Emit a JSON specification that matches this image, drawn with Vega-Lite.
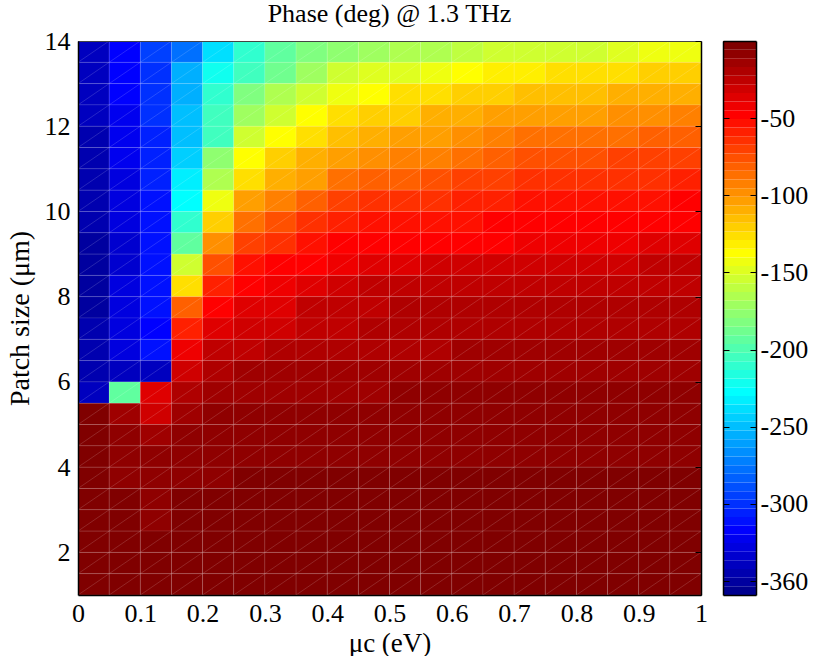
{"$schema":"https://vega.github.io/schema/vega-lite/v6.json","padding":{"left":6,"top":1,"right":0,"bottom":0},"background":"white",
"config":{"font":"Liberation Serif","view":{"stroke":null},"axis":{"grid":false,"labelColor":"#000","titleColor":"#000","labelFont":"Liberation Serif","titleFont":"Liberation Serif","titleFontWeight":"normal"}},
"datasets":{
"muEdges":[{"mu":0,"mu2":0.05},{"mu":0.05,"mu2":0.1},{"mu":0.1,"mu2":0.15},{"mu":0.15,"mu2":0.2},{"mu":0.2,"mu2":0.25},{"mu":0.25,"mu2":0.3},{"mu":0.3,"mu2":0.35},{"mu":0.35,"mu2":0.4},{"mu":0.4,"mu2":0.45},{"mu":0.45,"mu2":0.5},{"mu":0.5,"mu2":0.55},{"mu":0.55,"mu2":0.6},{"mu":0.6,"mu2":0.65},{"mu":0.65,"mu2":0.7},{"mu":0.7,"mu2":0.75},{"mu":0.75,"mu2":0.8},{"mu":0.8,"mu2":0.85},{"mu":0.85,"mu2":0.9},{"mu":0.9,"mu2":0.95},{"mu":0.95,"mu2":1}],
"sizeEdges":[{"size":1,"size2":1.5},{"size":1.5,"size2":2},{"size":2,"size2":2.5},{"size":2.5,"size2":3},{"size":3,"size2":3.5},{"size":3.5,"size2":4},{"size":4,"size2":4.5},{"size":4.5,"size2":5},{"size":5,"size2":5.5},{"size":5.5,"size2":6},{"size":6,"size2":6.5},{"size":6.5,"size2":7},{"size":7,"size2":7.5},{"size":7.5,"size2":8},{"size":8,"size2":8.5},{"size":8.5,"size2":9},{"size":9,"size2":9.5},{"size":9.5,"size2":10},{"size":10,"size2":10.5},{"size":10.5,"size2":11},{"size":11,"size2":11.5},{"size":11.5,"size2":12},{"size":12,"size2":12.5},{"size":12.5,"size2":13},{"size":13,"size2":13.5},{"size":13.5,"size2":14}],
"bands":[{"lo":-359,"hi":-353.39,"v":-356.2},{"lo":-353.39,"hi":-347.78,"v":-350.6},{"lo":-347.78,"hi":-342.17,"v":-345},{"lo":-342.17,"hi":-336.56,"v":-339.4},{"lo":-336.56,"hi":-330.95,"v":-333.8},{"lo":-330.95,"hi":-325.34,"v":-328.1},{"lo":-325.34,"hi":-319.73,"v":-322.5},{"lo":-319.73,"hi":-314.13,"v":-316.9},{"lo":-314.13,"hi":-308.52,"v":-311.3},{"lo":-308.52,"hi":-302.91,"v":-305.7},{"lo":-302.91,"hi":-297.3,"v":-300.1},{"lo":-297.3,"hi":-291.69,"v":-294.5},{"lo":-291.69,"hi":-286.08,"v":-288.9},{"lo":-286.08,"hi":-280.47,"v":-283.3},{"lo":-280.47,"hi":-274.86,"v":-277.7},{"lo":-274.86,"hi":-269.25,"v":-272.1},{"lo":-269.25,"hi":-263.64,"v":-266.4},{"lo":-263.64,"hi":-258.03,"v":-260.8},{"lo":-258.03,"hi":-252.42,"v":-255.2},{"lo":-252.42,"hi":-246.81,"v":-249.6},{"lo":-246.81,"hi":-241.2,"v":-244},{"lo":-241.2,"hi":-235.59,"v":-238.4},{"lo":-235.59,"hi":-229.98,"v":-232.8},{"lo":-229.98,"hi":-224.38,"v":-227.2},{"lo":-224.38,"hi":-218.77,"v":-221.6},{"lo":-218.77,"hi":-213.16,"v":-216},{"lo":-213.16,"hi":-207.55,"v":-210.4},{"lo":-207.55,"hi":-201.94,"v":-204.7},{"lo":-201.94,"hi":-196.33,"v":-199.1},{"lo":-196.33,"hi":-190.72,"v":-193.5},{"lo":-190.72,"hi":-185.11,"v":-187.9},{"lo":-185.11,"hi":-179.5,"v":-182.3},{"lo":-179.5,"hi":-173.89,"v":-176.7},{"lo":-173.89,"hi":-168.28,"v":-171.1},{"lo":-168.28,"hi":-162.67,"v":-165.5},{"lo":-162.67,"hi":-157.06,"v":-159.9},{"lo":-157.06,"hi":-151.45,"v":-154.3},{"lo":-151.45,"hi":-145.84,"v":-148.6},{"lo":-145.84,"hi":-140.23,"v":-143},{"lo":-140.23,"hi":-134.63,"v":-137.4},{"lo":-134.63,"hi":-129.02,"v":-131.8},{"lo":-129.02,"hi":-123.41,"v":-126.2},{"lo":-123.41,"hi":-117.8,"v":-120.6},{"lo":-117.8,"hi":-112.19,"v":-115},{"lo":-112.19,"hi":-106.58,"v":-109.4},{"lo":-106.58,"hi":-100.97,"v":-103.8},{"lo":-100.97,"hi":-95.36,"v":-98.2},{"lo":-95.36,"hi":-89.75,"v":-92.6},{"lo":-89.75,"hi":-84.14,"v":-86.9},{"lo":-84.14,"hi":-78.53,"v":-81.3},{"lo":-78.53,"hi":-72.92,"v":-75.7},{"lo":-72.92,"hi":-67.31,"v":-70.1},{"lo":-67.31,"hi":-61.7,"v":-64.5},{"lo":-61.7,"hi":-56.09,"v":-58.9},{"lo":-56.09,"hi":-50.48,"v":-53.3},{"lo":-50.48,"hi":-44.88,"v":-47.7},{"lo":-44.88,"hi":-39.27,"v":-42.1},{"lo":-39.27,"hi":-33.66,"v":-36.5},{"lo":-33.66,"hi":-28.05,"v":-30.9},{"lo":-28.05,"hi":-22.44,"v":-25.2},{"lo":-22.44,"hi":-16.83,"v":-19.6},{"lo":-16.83,"hi":-11.22,"v":-14},{"lo":-11.22,"hi":-5.61,"v":-8.4},{"lo":-5.61,"hi":0,"v":-2.8}],
"cells":[
{"mu":0,"size":13.5,"phase":-340},{"mu":0.05,"size":13.5,"phase":-315},{"mu":0.1,"size":13.5,"phase":-295},{"mu":0.15,"size":13.5,"phase":-280},{"mu":0.2,"size":13.5,"phase":-238},{"mu":0.25,"size":13.5,"phase":-213},{"mu":0.3,"size":13.5,"phase":-196},{"mu":0.35,"size":13.5,"phase":-184},{"mu":0.4,"size":13.5,"phase":-179},{"mu":0.45,"size":13.5,"phase":-172},{"mu":0.5,"size":13.5,"phase":-168},{"mu":0.55,"size":13.5,"phase":-165},{"mu":0.6,"size":13.5,"phase":-160},{"mu":0.65,"size":13.5,"phase":-157},{"mu":0.7,"size":13.5,"phase":-152},{"mu":0.75,"size":13.5,"phase":-152},{"mu":0.8,"size":13.5,"phase":-152},{"mu":0.85,"size":13.5,"phase":-150},{"mu":0.9,"size":13.5,"phase":-145},{"mu":0.95,"size":13.5,"phase":-145},
{"mu":0,"size":13,"phase":-340},{"mu":0.05,"size":13,"phase":-316},{"mu":0.1,"size":13,"phase":-298},{"mu":0.15,"size":13,"phase":-257},{"mu":0.2,"size":13,"phase":-224},{"mu":0.25,"size":13,"phase":-202},{"mu":0.3,"size":13,"phase":-188},{"mu":0.35,"size":13,"phase":-169},{"mu":0.4,"size":13,"phase":-156},{"mu":0.45,"size":13,"phase":-150},{"mu":0.5,"size":13,"phase":-146},{"mu":0.55,"size":13,"phase":-142},{"mu":0.6,"size":13,"phase":-140},{"mu":0.65,"size":13,"phase":-134},{"mu":0.7,"size":13,"phase":-134},{"mu":0.75,"size":13,"phase":-127},{"mu":0.8,"size":13,"phase":-127},{"mu":0.85,"size":13,"phase":-127},{"mu":0.9,"size":13,"phase":-122},{"mu":0.95,"size":13,"phase":-122},
{"mu":0,"size":12.5,"phase":-342},{"mu":0.05,"size":12.5,"phase":-318},{"mu":0.1,"size":12.5,"phase":-300},{"mu":0.15,"size":12.5,"phase":-255},{"mu":0.2,"size":12.5,"phase":-212},{"mu":0.25,"size":12.5,"phase":-181},{"mu":0.3,"size":12.5,"phase":-166},{"mu":0.35,"size":12.5,"phase":-155},{"mu":0.4,"size":12.5,"phase":-143},{"mu":0.45,"size":12.5,"phase":-136},{"mu":0.5,"size":12.5,"phase":-129},{"mu":0.55,"size":12.5,"phase":-129},{"mu":0.6,"size":12.5,"phase":-122},{"mu":0.65,"size":12.5,"phase":-122},{"mu":0.7,"size":12.5,"phase":-116},{"mu":0.75,"size":12.5,"phase":-116},{"mu":0.8,"size":12.5,"phase":-116},{"mu":0.85,"size":12.5,"phase":-111},{"mu":0.9,"size":12.5,"phase":-111},{"mu":0.95,"size":12.5,"phase":-110},
{"mu":0,"size":12,"phase":-342},{"mu":0.05,"size":12,"phase":-320},{"mu":0.1,"size":12,"phase":-302},{"mu":0.15,"size":12,"phase":-250},{"mu":0.2,"size":12,"phase":-206},{"mu":0.25,"size":12,"phase":-172},{"mu":0.3,"size":12,"phase":-155},{"mu":0.35,"size":12,"phase":-137},{"mu":0.4,"size":12,"phase":-129},{"mu":0.45,"size":12,"phase":-120},{"mu":0.5,"size":12,"phase":-120},{"mu":0.55,"size":12,"phase":-112},{"mu":0.6,"size":12,"phase":-112},{"mu":0.65,"size":12,"phase":-104},{"mu":0.7,"size":12,"phase":-102},{"mu":0.75,"size":12,"phase":-102},{"mu":0.8,"size":12,"phase":-101},{"mu":0.85,"size":12,"phase":-100},{"mu":0.9,"size":12,"phase":-99},{"mu":0.95,"size":12,"phase":-92},
{"mu":0,"size":11.5,"phase":-344},{"mu":0.05,"size":11.5,"phase":-322},{"mu":0.1,"size":11.5,"phase":-304},{"mu":0.15,"size":11.5,"phase":-248},{"mu":0.2,"size":11.5,"phase":-202},{"mu":0.25,"size":11.5,"phase":-155},{"mu":0.3,"size":11.5,"phase":-137},{"mu":0.35,"size":11.5,"phase":-128},{"mu":0.4,"size":11.5,"phase":-116},{"mu":0.45,"size":11.5,"phase":-111},{"mu":0.5,"size":11.5,"phase":-104},{"mu":0.55,"size":11.5,"phase":-102},{"mu":0.6,"size":11.5,"phase":-97},{"mu":0.65,"size":11.5,"phase":-95},{"mu":0.7,"size":11.5,"phase":-89},{"mu":0.75,"size":11.5,"phase":-89},{"mu":0.8,"size":11.5,"phase":-86},{"mu":0.85,"size":11.5,"phase":-86},{"mu":0.9,"size":11.5,"phase":-84},{"mu":0.95,"size":11.5,"phase":-82},
{"mu":0,"size":11,"phase":-345},{"mu":0.05,"size":11,"phase":-325},{"mu":0.1,"size":11,"phase":-306},{"mu":0.15,"size":11,"phase":-242},{"mu":0.2,"size":11,"phase":-178},{"mu":0.25,"size":11,"phase":-140},{"mu":0.3,"size":11,"phase":-120},{"mu":0.35,"size":11,"phase":-111},{"mu":0.4,"size":11,"phase":-102},{"mu":0.45,"size":11,"phase":-96},{"mu":0.5,"size":11,"phase":-92},{"mu":0.55,"size":11,"phase":-90},{"mu":0.6,"size":11,"phase":-85},{"mu":0.65,"size":11,"phase":-84},{"mu":0.7,"size":11,"phase":-76},{"mu":0.75,"size":11,"phase":-76},{"mu":0.8,"size":11,"phase":-75},{"mu":0.85,"size":11,"phase":-72},{"mu":0.9,"size":11,"phase":-71},{"mu":0.95,"size":11,"phase":-69},
{"mu":0,"size":10.5,"phase":-346},{"mu":0.05,"size":10.5,"phase":-326},{"mu":0.1,"size":10.5,"phase":-308},{"mu":0.15,"size":10.5,"phase":-234},{"mu":0.2,"size":10.5,"phase":-163},{"mu":0.25,"size":10.5,"phase":-129},{"mu":0.3,"size":10.5,"phase":-109},{"mu":0.35,"size":10.5,"phase":-102},{"mu":0.4,"size":10.5,"phase":-88},{"mu":0.45,"size":10.5,"phase":-81},{"mu":0.5,"size":10.5,"phase":-79},{"mu":0.55,"size":10.5,"phase":-78},{"mu":0.6,"size":10.5,"phase":-71},{"mu":0.65,"size":10.5,"phase":-70},{"mu":0.7,"size":10.5,"phase":-64},{"mu":0.75,"size":10.5,"phase":-65},{"mu":0.8,"size":10.5,"phase":-65},{"mu":0.85,"size":10.5,"phase":-62},{"mu":0.9,"size":10.5,"phase":-62},{"mu":0.95,"size":10.5,"phase":-60},
{"mu":0,"size":10,"phase":-347},{"mu":0.05,"size":10,"phase":-328},{"mu":0.1,"size":10,"phase":-310},{"mu":0.15,"size":10,"phase":-228},{"mu":0.2,"size":10,"phase":-143},{"mu":0.25,"size":10,"phase":-105},{"mu":0.3,"size":10,"phase":-94},{"mu":0.35,"size":10,"phase":-84},{"mu":0.4,"size":10,"phase":-71},{"mu":0.45,"size":10,"phase":-65},{"mu":0.5,"size":10,"phase":-65},{"mu":0.55,"size":10,"phase":-64},{"mu":0.6,"size":10,"phase":-60},{"mu":0.65,"size":10,"phase":-58},{"mu":0.7,"size":10,"phase":-56},{"mu":0.75,"size":10,"phase":-56},{"mu":0.8,"size":10,"phase":-55},{"mu":0.85,"size":10,"phase":-52},{"mu":0.9,"size":10,"phase":-52},{"mu":0.95,"size":10,"phase":-50},
{"mu":0,"size":9.5,"phase":-347},{"mu":0.05,"size":9.5,"phase":-330},{"mu":0.1,"size":9.5,"phase":-312},{"mu":0.15,"size":9.5,"phase":-213},{"mu":0.2,"size":9.5,"phase":-122},{"mu":0.25,"size":9.5,"phase":-88},{"mu":0.3,"size":9.5,"phase":-78},{"mu":0.35,"size":9.5,"phase":-67},{"mu":0.4,"size":9.5,"phase":-59},{"mu":0.45,"size":9.5,"phase":-56},{"mu":0.5,"size":9.5,"phase":-56},{"mu":0.55,"size":9.5,"phase":-54},{"mu":0.6,"size":9.5,"phase":-51},{"mu":0.65,"size":9.5,"phase":-49},{"mu":0.7,"size":9.5,"phase":-48},{"mu":0.75,"size":9.5,"phase":-48},{"mu":0.8,"size":9.5,"phase":-48},{"mu":0.85,"size":9.5,"phase":-47},{"mu":0.9,"size":9.5,"phase":-47},{"mu":0.95,"size":9.5,"phase":-45},
{"mu":0,"size":9,"phase":-348},{"mu":0.05,"size":9,"phase":-331},{"mu":0.1,"size":9,"phase":-314},{"mu":0.15,"size":9,"phase":-192},{"mu":0.2,"size":9,"phase":-100},{"mu":0.25,"size":9,"phase":-71},{"mu":0.3,"size":9,"phase":-64},{"mu":0.35,"size":9,"phase":-55},{"mu":0.4,"size":9,"phase":-50},{"mu":0.45,"size":9,"phase":-47},{"mu":0.5,"size":9,"phase":-46},{"mu":0.55,"size":9,"phase":-45},{"mu":0.6,"size":9,"phase":-45},{"mu":0.65,"size":9,"phase":-45},{"mu":0.7,"size":9,"phase":-44},{"mu":0.75,"size":9,"phase":-42},{"mu":0.8,"size":9,"phase":-41},{"mu":0.85,"size":9,"phase":-40},{"mu":0.9,"size":9,"phase":-38},{"mu":0.95,"size":9,"phase":-38},
{"mu":0,"size":8.5,"phase":-350},{"mu":0.05,"size":8.5,"phase":-332},{"mu":0.1,"size":8.5,"phase":-314},{"mu":0.15,"size":8.5,"phase":-155},{"mu":0.2,"size":8.5,"phase":-78},{"mu":0.25,"size":8.5,"phase":-55},{"mu":0.3,"size":8.5,"phase":-50},{"mu":0.35,"size":8.5,"phase":-45},{"mu":0.4,"size":8.5,"phase":-40},{"mu":0.45,"size":8.5,"phase":-35},{"mu":0.5,"size":8.5,"phase":-35},{"mu":0.55,"size":8.5,"phase":-31},{"mu":0.6,"size":8.5,"phase":-31},{"mu":0.65,"size":8.5,"phase":-30},{"mu":0.7,"size":8.5,"phase":-30},{"mu":0.75,"size":8.5,"phase":-30},{"mu":0.8,"size":8.5,"phase":-29},{"mu":0.85,"size":8.5,"phase":-29},{"mu":0.9,"size":8.5,"phase":-28},{"mu":0.95,"size":8.5,"phase":-28},
{"mu":0,"size":8,"phase":-348},{"mu":0.05,"size":8,"phase":-330},{"mu":0.1,"size":8,"phase":-313},{"mu":0.15,"size":8,"phase":-126},{"mu":0.2,"size":8,"phase":-60},{"mu":0.25,"size":8,"phase":-46},{"mu":0.3,"size":8,"phase":-44},{"mu":0.35,"size":8,"phase":-34},{"mu":0.4,"size":8,"phase":-29},{"mu":0.45,"size":8,"phase":-26},{"mu":0.5,"size":8,"phase":-27},{"mu":0.55,"size":8,"phase":-27},{"mu":0.6,"size":8,"phase":-27},{"mu":0.65,"size":8,"phase":-27},{"mu":0.7,"size":8,"phase":-26},{"mu":0.75,"size":8,"phase":-26},{"mu":0.8,"size":8,"phase":-26},{"mu":0.85,"size":8,"phase":-26},{"mu":0.9,"size":8,"phase":-25},{"mu":0.95,"size":8,"phase":-25},
{"mu":0,"size":7.5,"phase":-348},{"mu":0.05,"size":7.5,"phase":-328},{"mu":0.1,"size":7.5,"phase":-313},{"mu":0.15,"size":7.5,"phase":-84},{"mu":0.2,"size":7.5,"phase":-45},{"mu":0.25,"size":7.5,"phase":-38},{"mu":0.3,"size":7.5,"phase":-34},{"mu":0.35,"size":7.5,"phase":-25},{"mu":0.4,"size":7.5,"phase":-24},{"mu":0.45,"size":7.5,"phase":-23},{"mu":0.5,"size":7.5,"phase":-22},{"mu":0.55,"size":7.5,"phase":-22},{"mu":0.6,"size":7.5,"phase":-22},{"mu":0.65,"size":7.5,"phase":-22},{"mu":0.7,"size":7.5,"phase":-21},{"mu":0.75,"size":7.5,"phase":-21},{"mu":0.8,"size":7.5,"phase":-21},{"mu":0.85,"size":7.5,"phase":-21},{"mu":0.9,"size":7.5,"phase":-21},{"mu":0.95,"size":7.5,"phase":-21},
{"mu":0,"size":7,"phase":-347},{"mu":0.05,"size":7,"phase":-330},{"mu":0.1,"size":7,"phase":-316},{"mu":0.15,"size":7,"phase":-61},{"mu":0.2,"size":7,"phase":-34},{"mu":0.25,"size":7,"phase":-30},{"mu":0.3,"size":7,"phase":-29},{"mu":0.35,"size":7,"phase":-24},{"mu":0.4,"size":7,"phase":-23},{"mu":0.45,"size":7,"phase":-22},{"mu":0.5,"size":7,"phase":-20},{"mu":0.55,"size":7,"phase":-20},{"mu":0.6,"size":7,"phase":-20},{"mu":0.65,"size":7,"phase":-19},{"mu":0.7,"size":7,"phase":-19},{"mu":0.75,"size":7,"phase":-19},{"mu":0.8,"size":7,"phase":-18},{"mu":0.85,"size":7,"phase":-18},{"mu":0.9,"size":7,"phase":-18},{"mu":0.95,"size":7,"phase":-18},
{"mu":0,"size":6.5,"phase":-346},{"mu":0.05,"size":6.5,"phase":-326},{"mu":0.1,"size":6.5,"phase":-310},{"mu":0.15,"size":6.5,"phase":-40},{"mu":0.2,"size":6.5,"phase":-27},{"mu":0.25,"size":6.5,"phase":-25},{"mu":0.3,"size":6.5,"phase":-19},{"mu":0.35,"size":6.5,"phase":-18},{"mu":0.4,"size":6.5,"phase":-18},{"mu":0.45,"size":6.5,"phase":-17},{"mu":0.5,"size":6.5,"phase":-17},{"mu":0.55,"size":6.5,"phase":-17},{"mu":0.6,"size":6.5,"phase":-16},{"mu":0.65,"size":6.5,"phase":-16},{"mu":0.7,"size":6.5,"phase":-16},{"mu":0.75,"size":6.5,"phase":-16},{"mu":0.8,"size":6.5,"phase":-15},{"mu":0.85,"size":6.5,"phase":-15},{"mu":0.9,"size":6.5,"phase":-15},{"mu":0.95,"size":6.5,"phase":-15},
{"mu":0,"size":6,"phase":-345},{"mu":0.05,"size":6,"phase":-337},{"mu":0.1,"size":6,"phase":-337},{"mu":0.15,"size":6,"phase":-29},{"mu":0.2,"size":6,"phase":-17},{"mu":0.25,"size":6,"phase":-15},{"mu":0.3,"size":6,"phase":-15},{"mu":0.35,"size":6,"phase":-13},{"mu":0.4,"size":6,"phase":-13},{"mu":0.45,"size":6,"phase":-13},{"mu":0.5,"size":6,"phase":-13},{"mu":0.55,"size":6,"phase":-13},{"mu":0.6,"size":6,"phase":-13},{"mu":0.65,"size":6,"phase":-12},{"mu":0.7,"size":6,"phase":-12},{"mu":0.75,"size":6,"phase":-12},{"mu":0.8,"size":6,"phase":-12},{"mu":0.85,"size":6,"phase":-12},{"mu":0.9,"size":6,"phase":-12},{"mu":0.95,"size":6,"phase":-12},
{"mu":0,"size":5.5,"phase":-340},{"mu":0.05,"size":5.5,"phase":-196},{"mu":0.1,"size":5.5,"phase":-34},{"mu":0.15,"size":5.5,"phase":-17},{"mu":0.2,"size":5.5,"phase":-13},{"mu":0.25,"size":5.5,"phase":-13},{"mu":0.3,"size":5.5,"phase":-13},{"mu":0.35,"size":5.5,"phase":-12},{"mu":0.4,"size":5.5,"phase":-12},{"mu":0.45,"size":5.5,"phase":-12},{"mu":0.5,"size":5.5,"phase":-11},{"mu":0.55,"size":5.5,"phase":-11},{"mu":0.6,"size":5.5,"phase":-11},{"mu":0.65,"size":5.5,"phase":-11},{"mu":0.7,"size":5.5,"phase":-11},{"mu":0.75,"size":5.5,"phase":-10},{"mu":0.8,"size":5.5,"phase":-10},{"mu":0.85,"size":5.5,"phase":-10},{"mu":0.9,"size":5.5,"phase":-10},{"mu":0.95,"size":5.5,"phase":-10},
{"mu":0,"size":5,"phase":-1},{"mu":0.05,"size":5,"phase":-13},{"mu":0.1,"size":5,"phase":-29},{"mu":0.15,"size":5,"phase":-13},{"mu":0.2,"size":5,"phase":-10},{"mu":0.25,"size":5,"phase":-8},{"mu":0.3,"size":5,"phase":-8},{"mu":0.35,"size":5,"phase":-8},{"mu":0.4,"size":5,"phase":-8},{"mu":0.45,"size":5,"phase":-8},{"mu":0.5,"size":5,"phase":-8},{"mu":0.55,"size":5,"phase":-8},{"mu":0.6,"size":5,"phase":-8},{"mu":0.65,"size":5,"phase":-8},{"mu":0.7,"size":5,"phase":-8},{"mu":0.75,"size":5,"phase":-8},{"mu":0.8,"size":5,"phase":-7},{"mu":0.85,"size":5,"phase":-7},{"mu":0.9,"size":5,"phase":-7},{"mu":0.95,"size":5,"phase":-7},
{"mu":0,"size":4.5,"phase":-2},{"mu":0.05,"size":4.5,"phase":-6},{"mu":0.1,"size":4.5,"phase":-15},{"mu":0.15,"size":4.5,"phase":-7},{"mu":0.2,"size":4.5,"phase":-7},{"mu":0.25,"size":4.5,"phase":-7},{"mu":0.3,"size":4.5,"phase":-7},{"mu":0.35,"size":4.5,"phase":-7},{"mu":0.4,"size":4.5,"phase":-7},{"mu":0.45,"size":4.5,"phase":-7},{"mu":0.5,"size":4.5,"phase":-7},{"mu":0.55,"size":4.5,"phase":-7},{"mu":0.6,"size":4.5,"phase":-7},{"mu":0.65,"size":4.5,"phase":-7},{"mu":0.7,"size":4.5,"phase":-7},{"mu":0.75,"size":4.5,"phase":-7},{"mu":0.8,"size":4.5,"phase":-7},{"mu":0.85,"size":4.5,"phase":-7},{"mu":0.9,"size":4.5,"phase":-7},{"mu":0.95,"size":4.5,"phase":-7},
{"mu":0,"size":4,"phase":-2},{"mu":0.05,"size":4,"phase":-6},{"mu":0.1,"size":4,"phase":-11},{"mu":0.15,"size":4,"phase":-7},{"mu":0.2,"size":4,"phase":-7},{"mu":0.25,"size":4,"phase":-7},{"mu":0.3,"size":4,"phase":-7},{"mu":0.35,"size":4,"phase":-7},{"mu":0.4,"size":4,"phase":-7},{"mu":0.45,"size":4,"phase":-7},{"mu":0.5,"size":4,"phase":-6},{"mu":0.55,"size":4,"phase":-6},{"mu":0.6,"size":4,"phase":-6},{"mu":0.65,"size":4,"phase":-6},{"mu":0.7,"size":4,"phase":-6},{"mu":0.75,"size":4,"phase":-6},{"mu":0.8,"size":4,"phase":-6},{"mu":0.85,"size":4,"phase":-6},{"mu":0.9,"size":4,"phase":-6},{"mu":0.95,"size":4,"phase":-6},
{"mu":0,"size":3.5,"phase":-3},{"mu":0.05,"size":3.5,"phase":-6},{"mu":0.1,"size":3.5,"phase":-7},{"mu":0.15,"size":3.5,"phase":-6},{"mu":0.2,"size":3.5,"phase":-6},{"mu":0.25,"size":3.5,"phase":-3},{"mu":0.3,"size":3.5,"phase":-3},{"mu":0.35,"size":3.5,"phase":-3},{"mu":0.4,"size":3.5,"phase":-3},{"mu":0.45,"size":3.5,"phase":-4},{"mu":0.5,"size":3.5,"phase":-4},{"mu":0.55,"size":3.5,"phase":-3},{"mu":0.6,"size":3.5,"phase":-3},{"mu":0.65,"size":3.5,"phase":-3},{"mu":0.7,"size":3.5,"phase":-3},{"mu":0.75,"size":3.5,"phase":-3},{"mu":0.8,"size":3.5,"phase":-3},{"mu":0.85,"size":3.5,"phase":-2},{"mu":0.9,"size":3.5,"phase":-2},{"mu":0.95,"size":3.5,"phase":-4},
{"mu":0,"size":3,"phase":-3},{"mu":0.05,"size":3,"phase":-5},{"mu":0.1,"size":3,"phase":-6},{"mu":0.15,"size":3,"phase":-4},{"mu":0.2,"size":3,"phase":-4},{"mu":0.25,"size":3,"phase":-3},{"mu":0.3,"size":3,"phase":-3},{"mu":0.35,"size":3,"phase":-3},{"mu":0.4,"size":3,"phase":-3},{"mu":0.45,"size":3,"phase":-3},{"mu":0.5,"size":3,"phase":-3},{"mu":0.55,"size":3,"phase":-3},{"mu":0.6,"size":3,"phase":-3},{"mu":0.65,"size":3,"phase":-3},{"mu":0.7,"size":3,"phase":-3},{"mu":0.75,"size":3,"phase":-3},{"mu":0.8,"size":3,"phase":-3},{"mu":0.85,"size":3,"phase":-3},{"mu":0.9,"size":3,"phase":-3},{"mu":0.95,"size":3,"phase":-3},
{"mu":0,"size":2.5,"phase":-3},{"mu":0.05,"size":2.5,"phase":-4},{"mu":0.1,"size":2.5,"phase":-6},{"mu":0.15,"size":2.5,"phase":-3},{"mu":0.2,"size":2.5,"phase":-3},{"mu":0.25,"size":2.5,"phase":-2},{"mu":0.3,"size":2.5,"phase":-2},{"mu":0.35,"size":2.5,"phase":-2},{"mu":0.4,"size":2.5,"phase":-2},{"mu":0.45,"size":2.5,"phase":-2},{"mu":0.5,"size":2.5,"phase":-2},{"mu":0.55,"size":2.5,"phase":-2},{"mu":0.6,"size":2.5,"phase":-2},{"mu":0.65,"size":2.5,"phase":-2},{"mu":0.7,"size":2.5,"phase":-2},{"mu":0.75,"size":2.5,"phase":-2},{"mu":0.8,"size":2.5,"phase":-2},{"mu":0.85,"size":2.5,"phase":-2},{"mu":0.9,"size":2.5,"phase":-2},{"mu":0.95,"size":2.5,"phase":-2},
{"mu":0,"size":2,"phase":-2},{"mu":0.05,"size":2,"phase":-3},{"mu":0.1,"size":2,"phase":-4},{"mu":0.15,"size":2,"phase":-2},{"mu":0.2,"size":2,"phase":-2},{"mu":0.25,"size":2,"phase":-2},{"mu":0.3,"size":2,"phase":-2},{"mu":0.35,"size":2,"phase":-2},{"mu":0.4,"size":2,"phase":-2},{"mu":0.45,"size":2,"phase":-2},{"mu":0.5,"size":2,"phase":-2},{"mu":0.55,"size":2,"phase":-2},{"mu":0.6,"size":2,"phase":-2},{"mu":0.65,"size":2,"phase":-2},{"mu":0.7,"size":2,"phase":-2},{"mu":0.75,"size":2,"phase":-2},{"mu":0.8,"size":2,"phase":-2},{"mu":0.85,"size":2,"phase":-2},{"mu":0.9,"size":2,"phase":-2},{"mu":0.95,"size":2,"phase":-2},
{"mu":0,"size":1.5,"phase":-1},{"mu":0.05,"size":1.5,"phase":-2},{"mu":0.1,"size":1.5,"phase":-3},{"mu":0.15,"size":1.5,"phase":-1},{"mu":0.2,"size":1.5,"phase":-1},{"mu":0.25,"size":1.5,"phase":-1},{"mu":0.3,"size":1.5,"phase":-1},{"mu":0.35,"size":1.5,"phase":-1},{"mu":0.4,"size":1.5,"phase":-1},{"mu":0.45,"size":1.5,"phase":-1},{"mu":0.5,"size":1.5,"phase":-1},{"mu":0.55,"size":1.5,"phase":-1},{"mu":0.6,"size":1.5,"phase":-1},{"mu":0.65,"size":1.5,"phase":-1},{"mu":0.7,"size":1.5,"phase":-1},{"mu":0.75,"size":1.5,"phase":-1},{"mu":0.8,"size":1.5,"phase":-1},{"mu":0.85,"size":1.5,"phase":-1},{"mu":0.9,"size":1.5,"phase":-1},{"mu":0.95,"size":1.5,"phase":-1},
{"mu":0,"size":1,"phase":-1},{"mu":0.05,"size":1,"phase":-1},{"mu":0.1,"size":1,"phase":-1},{"mu":0.15,"size":1,"phase":-1},{"mu":0.2,"size":1,"phase":-1},{"mu":0.25,"size":1,"phase":-1},{"mu":0.3,"size":1,"phase":-1},{"mu":0.35,"size":1,"phase":-1},{"mu":0.4,"size":1,"phase":-1},{"mu":0.45,"size":1,"phase":-1},{"mu":0.5,"size":1,"phase":-1},{"mu":0.55,"size":1,"phase":-1},{"mu":0.6,"size":1,"phase":-1},{"mu":0.65,"size":1,"phase":-1},{"mu":0.7,"size":1,"phase":-1},{"mu":0.75,"size":1,"phase":-1},{"mu":0.8,"size":1,"phase":-1},{"mu":0.85,"size":1,"phase":-1},{"mu":0.9,"size":1,"phase":-1},{"mu":0.95,"size":1,"phase":-1}
]},
"spacing":14,
"hconcat":[
{"width":623,"height":554,
"title":{"text":"Phase (deg) @ 1.3 THz","font":"Liberation Serif","fontSize":26,"fontWeight":"normal","color":"#000","anchor":"middle","offset":1},
"data":{"name":"cells"},
"transform":[
{"lookup":"mu","from":{"data":{"name":"muEdges"},"key":"mu","fields":["mu2"]}},
{"lookup":"size","from":{"data":{"name":"sizeEdges"},"key":"size","fields":["size2"]}}],
"resolve":{"axis":{"x":"independent","y":"independent"}},
"layer":[
{"mark":{"type":"rect","stroke":"#fff","strokeWidth":0.6,"strokeOpacity":0.16},
"encoding":{
"x":{"field":"mu","type":"quantitative","scale":{"domain":[0,1],"nice":false,"zero":false},
"axis":{"title":"μc (eV)","values":[0,0.1,0.2,0.3,0.4,0.5,0.6,0.7,0.8,0.9,1],"format":".1~f","labelFontSize":26,"titleFontSize":27,"ticks":false,"labelPadding":5,"titlePadding":4,"domainColor":"#000","domainWidth":1.5,"zindex":1,"labelFlush":false,"labelOverlap":false}},
"x2":{"field":"mu2"},
"y":{"field":"size","type":"quantitative","scale":{"domain":[1,14],"nice":false,"zero":false},
"axis":{"title":"Patch size (μm)","values":[2,4,6,8,10,12,14],"labelFontSize":26,"titleFontSize":28,"ticks":false,"labelPadding":8,"titlePadding":10,"domainColor":"#000","domainWidth":1.5,"zindex":1,"labelOverlap":false}},
"y2":{"field":"size2"},
"color":{"field":"phase","type":"quantitative","legend":null,"scale":{"type":"quantize","domain":[-359,0],"range":["#00008f","#00009f","#0000af","#0000bf","#0000cf","#0000df","#0000ef","#0000ff","#0010ff","#0020ff","#0030ff","#0040ff","#0050ff","#0060ff","#0070ff","#0080ff","#008fff","#009fff","#00afff","#00bfff","#00cfff","#00dfff","#00efff","#00ffff","#10ffef","#20ffdf","#30ffcf","#40ffbf","#50ffaf","#60ff9f","#70ff8f","#80ff80","#8fff70","#9fff60","#afff50","#bfff40","#cfff30","#dfff20","#efff10","#ffff00","#ffef00","#ffdf00","#ffcf00","#ffbf00","#ffaf00","#ff9f00","#ff8f00","#ff8000","#ff7000","#ff6000","#ff5000","#ff4000","#ff3000","#ff2000","#ff1000","#ff0000","#ef0000","#df0000","#cf0000","#bf0000","#af0000","#9f0000","#8f0000","#800000"]}}}},
{"mark":{"type":"rule","stroke":"#fff","strokeWidth":0.6,"strokeOpacity":0.25},
"encoding":{
"x":{"field":"mu","type":"quantitative","axis":{"orient":"top","title":null,"labels":false,"ticks":false,"domainColor":"#444","domainWidth":1,"zindex":1}},
"x2":{"field":"mu2"},
"y":{"field":"size","type":"quantitative","axis":{"orient":"right","title":null,"labels":false,"values":[1,2,4,6,8,10,12,14],"tickSize":-6,"tickColor":"#000","tickWidth":1,"domainColor":"#000","domainWidth":1.5,"zindex":1}},
"y2":{"field":"size2"}}}
]},
{"width":33,"height":554,"data":{"name":"bands"},
"resolve":{"axis":{"x":"independent","y":"independent"}},
"layer":[
{"mark":{"type":"rect"},
"encoding":{
"x":{"datum":0,"type":"quantitative","scale":{"domain":[0,1],"nice":false},"axis":{"title":null,"labels":false,"ticks":false,"domainColor":"#000","domainWidth":1.5,"zindex":1}},
"x2":{"datum":1},
"y":{"field":"lo","type":"quantitative","scale":{"domain":[-359,0],"nice":false,"zero":false},"axis":{"orient":"right","title":null,"values":[-50,-100,-150,-200,-250,-300,-350],"labelExpr":"datum.value==-350?'-360':''+datum.value","labelFontSize":26,"tickSize":-6,"tickColor":"#000","labelPadding":10,"domainColor":"#000","domainWidth":1.5,"zindex":1}},
"y2":{"field":"hi"},
"color":{"field":"v","type":"quantitative","legend":null,"scale":{"type":"quantize","domain":[-359,0],"range":["#00008f","#00009f","#0000af","#0000bf","#0000cf","#0000df","#0000ef","#0000ff","#0010ff","#0020ff","#0030ff","#0040ff","#0050ff","#0060ff","#0070ff","#0080ff","#008fff","#009fff","#00afff","#00bfff","#00cfff","#00dfff","#00efff","#00ffff","#10ffef","#20ffdf","#30ffcf","#40ffbf","#50ffaf","#60ff9f","#70ff8f","#80ff80","#8fff70","#9fff60","#afff50","#bfff40","#cfff30","#dfff20","#efff10","#ffff00","#ffef00","#ffdf00","#ffcf00","#ffbf00","#ffaf00","#ff9f00","#ff8f00","#ff8000","#ff7000","#ff6000","#ff5000","#ff4000","#ff3000","#ff2000","#ff1000","#ff0000","#ef0000","#df0000","#cf0000","#bf0000","#af0000","#9f0000","#8f0000","#800000"]}}}},
{"mark":{"type":"rect","opacity":0},
"encoding":{
"x":{"datum":0,"type":"quantitative","axis":{"orient":"top","title":null,"labels":false,"ticks":false,"domainColor":"#000","domainWidth":1.5,"zindex":1}},
"x2":{"datum":1},
"y":{"field":"lo","type":"quantitative","axis":{"orient":"left","title":null,"labels":false,"values":[-50,-100,-150,-200,-250,-300,-350],"tickSize":-6,"tickColor":"#000","domainColor":"#000","domainWidth":1.5,"zindex":1}},
"y2":{"field":"hi"}}}
]}
]}
